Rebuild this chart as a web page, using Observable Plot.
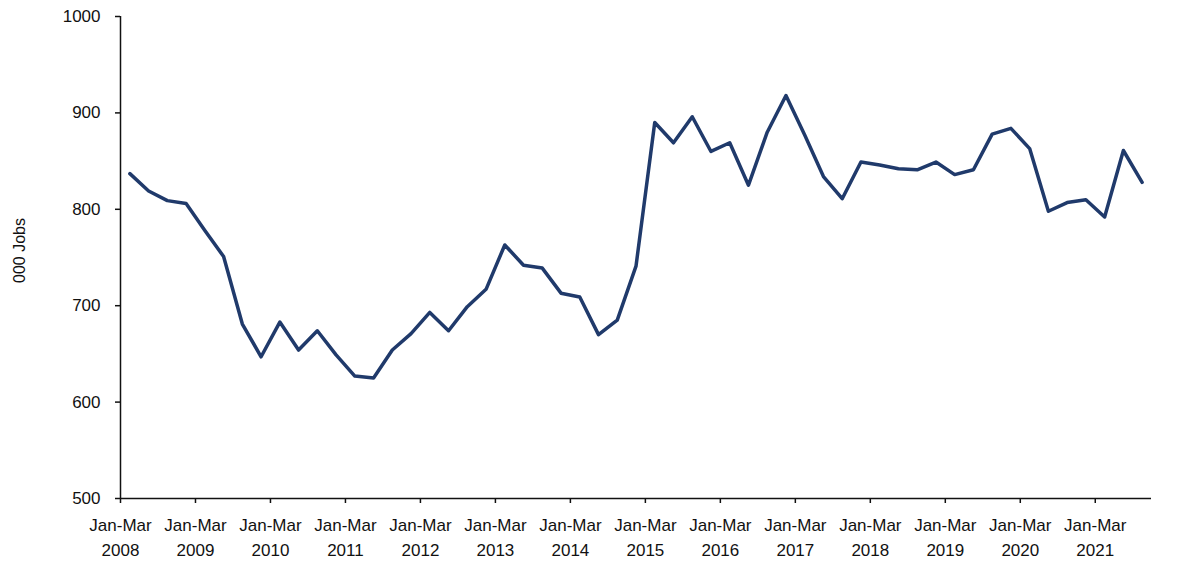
<!DOCTYPE html>
<html>
<head>
<meta charset="utf-8">
<script src="https://cdn.jsdelivr.net/npm/d3@7"></script>
<script src="https://cdn.jsdelivr.net/npm/@observablehq/plot@0.6"></script>
<style>
  html, body { margin: 0; padding: 0; background: #fff; }
  #chart svg { font-family: "Liberation Sans", Arial, sans-serif; display: block; }
</style>
</head>
<body>
<div id="chart"></div>
<script>
// Quarterly series, Jan-Mar 2008 to Jul-Sep 2021 (000 jobs)
const startYear = 2008;
const quarterNames = ["Jan-Mar", "Apr-Jun", "Jul-Sep", "Oct-Dec"];
const jobs = [
  837, 819, 809, 806,   // 2008
  778, 751, 681, 647,   // 2009
  683, 654, 674, 649,   // 2010
  627, 625, 654, 671,   // 2011
  693, 674, 699, 717,   // 2012
  763, 742, 739, 713,   // 2013
  709, 670, 685, 741,   // 2014
  890, 869, 896, 860,   // 2015
  869, 825, 880, 918,   // 2016
  877, 834, 811, 849,   // 2017
  846, 842, 841, 849,   // 2018
  836, 841, 878, 884,   // 2019
  863, 798, 807, 810,   // 2020
  792, 861, 828         // 2021
];
const yTicks = [500, 600, 700, 800, 900, 1000];
const tickYears = [2008, 2009, 2010, 2011, 2012, 2013, 2014, 2015, 2016, 2017, 2018, 2019, 2020, 2021];
const yLabel = "000 Jobs";

const data = jobs.map((v, i) => ({
  pos: i + 0.5,
  quarter: quarterNames[i % 4] + " " + (startYear + Math.floor(i / 4)),
  jobs: v
}));
const xTickPositions = tickYears.map(y => (y - startYear) * 4);

const chart = Plot.plot({
  width: 1200,
  height: 585,
  marginLeft: 120,
  marginRight: 49,
  marginTop: 16,
  marginBottom: 87,
  style: { fontSize: "17px", color: "#111", background: "#fff" },
  x: { domain: [0, jobs.length] },
  y: { domain: [500, 1000] },
  marks: [
    Plot.ruleX([0], { stroke: "#111", strokeWidth: 1.5 }),
    Plot.ruleY([500], { stroke: "#111", strokeWidth: 1.5 }),
    Plot.axisY({
      ticks: yTicks, tickSize: 5, tickPadding: 15, label: null,
      tickFormat: d => String(d),
      fontSize: 17, stroke: "#111", strokeWidth: 1.5, fill: "#111"
    }),
    Plot.axisX({
      ticks: xTickPositions, tickSize: 5, tickPadding: 10, label: null,
      tickFormat: d => "Jan-Mar\n" + (startYear + d / 4),
      lineHeight: 1.45, fontSize: 17, stroke: "#111", strokeWidth: 1.5, fill: "#111"
    }),
    Plot.text([yLabel], {
      frameAnchor: "left", textAnchor: "middle", rotate: -90, dx: -101, dy: -7,
      fontSize: 16, fill: "#111"
    }),
    Plot.line(data, {
      x: "pos", y: "jobs", stroke: "#203a6b", strokeWidth: 3.5,
      strokeLinejoin: "round", strokeLinecap: "round"
    })
  ]
});
document.getElementById("chart").append(chart);
</script>
</body>
</html>
